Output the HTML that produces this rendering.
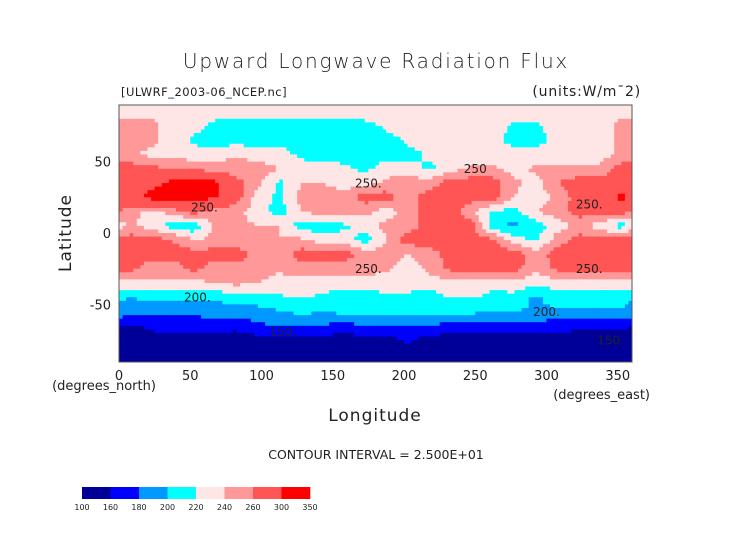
<!DOCTYPE html>
<html><head><meta charset="utf-8"><style>
body{margin:0;background:#fff;width:752px;height:532px;overflow:hidden}
svg text{font-family:"DejaVu Sans","Liberation Sans",sans-serif;fill:#222}
</style></head><body>
<svg id="chart" width="752" height="532" viewBox="0 0 752 532" xmlns="http://www.w3.org/2000/svg">
<text x="376" y="68" text-anchor="middle" font-size="20" font-weight="200" letter-spacing="1.8">Upward Longwave Radiation Flux</text>
<text x="121" y="96" font-size="11.5" letter-spacing="0.5">[ULWRF_2003-06_NCEP.nc]</text>
<text x="641" y="96" text-anchor="end" font-size="14" letter-spacing="0.8">(units:W/m¯2)</text>
<g id="cells"></g>
<g id="labels"></g>
<rect x="119" y="105" width="513" height="257" fill="none" stroke="#555" stroke-width="1"/>
<g id="axes"></g>
<text transform="translate(71,233) rotate(-90)" text-anchor="middle" font-size="17" letter-spacing="1">Latitude</text>
<text x="104" y="390" text-anchor="middle" font-size="13">(degrees_north)</text>
<text x="375" y="421" text-anchor="middle" font-size="17" letter-spacing="1">Longitude</text>
<text x="650" y="399" text-anchor="end" font-size="13">(degrees_east)</text>
<text x="376" y="459" text-anchor="middle" font-size="12.5">CONTOUR INTERVAL = 2.500E+01</text>
<g id="cbar"></g>
</svg>
<script>
const lats=[85,75,65,55,45,35,25,15,5,-5,-15,-25,-35,-45,-55,-65,-75,-85];
const lons=[7.5,22.5,37.5,52.5,67.5,82.5,97.5,112.5,127.5,142.5,157.5,172.5,187.5,202.5,217.5,232.5,247.5,262.5,277.5,292.5,307.5,322.5,337.5,352.5];
const values=[
[235,235,235,235,235,235,235,235,235,235,235,235,235,235,235,235,235,235,235,235,235,235,235,235],
[245,245,230,230,210,210,210,210,210,210,210,210,225,230,230,230,230,230,215,215,230,225,230,245],
[245,245,230,215,210,210,210,210,210,210,210,210,210,225,230,230,230,230,210,210,230,225,230,245],
[245,235,230,230,230,240,230,230,215,210,210,210,210,210,225,230,230,230,230,230,230,230,230,245],
[270,265,260,255,250,245,250,240,230,230,225,215,230,230,215,230,245,245,230,245,245,245,245,270],
[280,290,310,310,310,270,245,215,240,240,230,230,245,250,250,270,270,270,245,230,260,270,270,280],
[280,310,310,310,305,270,230,215,245,250,250,270,270,250,270,270,270,270,240,230,245,270,270,310],
[250,230,250,270,250,245,230,210,240,250,250,245,230,250,270,270,245,215,215,240,250,270,270,270],
[245,230,210,205,245,245,240,240,210,210,215,230,245,250,270,270,270,205,195,210,230,245,230,210],
[270,270,260,240,245,250,240,240,245,230,230,210,240,270,270,270,270,265,230,215,250,270,270,270],
[270,270,270,270,270,270,255,250,270,270,270,250,250,240,250,270,270,270,270,250,270,270,270,270],
[265,250,250,265,250,250,250,245,250,250,250,250,245,230,245,265,270,270,270,245,265,270,270,270],
[235,235,235,235,240,245,240,230,230,225,225,225,230,230,230,230,230,225,235,225,230,230,230,230],
[200,205,205,205,205,210,212,218,222,218,215,215,215,215,210,222,222,215,212,195,212,212,208,205],
[190,188,185,185,188,192,192,198,205,200,205,205,205,205,205,205,205,200,200,198,195,195,198,198],
[155,165,170,170,170,165,178,178,182,178,175,178,178,178,178,175,172,175,175,172,168,165,165,165],
[150,150,150,150,150,150,150,150,150,150,150,150,150,165,150,150,150,150,150,150,150,150,150,150],
[145,145,145,145,145,145,145,145,145,145,145,145,145,145,145,145,145,145,145,145,145,145,145,145]];
const levels=[160,180,200,220,240,260,300];
const colors=["#000099","#0000ff","#0099ff","#00ffff","#ffe6e6","#ff9999","#ff5555","#ff0000"];
const barLabels=["100","160","180","200","220","240","260","300","350"];
const xTicks=[0,50,100,150,200,250,300,350];
const yTicks=[50,0,-50];
const NS="http://www.w3.org/2000/svg";
const X=lon=>119+lon/360*513, Y=lat=>233-lat*257/180;
function colorOf(v){let i=0;while(i<levels.length&&v>=levels[i])i++;return colors[i];}
function sample(lon,lat){
  let fi=(lon-7.5)/15, fj=(85-lat)/10;
  fj=Math.max(0,Math.min(lats.length-1,fj));
  let j0=Math.floor(fj), j1=Math.min(lats.length-1,j0+1), tj=fj-j0;
  let i0=Math.floor(fi), ti=fi-i0;
  let a=((i0%24)+24)%24, b=(a+1)%24;
  let top=values[j0][a]*(1-ti)+values[j0][b]*ti;
  let bot=values[j1][a]*(1-ti)+values[j1][b]*ti;
  return top*(1-tj)+bot*tj;
}
const cells=document.getElementById('cells');
const d=2.5;
for(let lat=90;lat>-90;lat-=d){for(let lon=0;lon<360;lon+=d){
  const r=document.createElementNS(NS,'rect');
  
  
  r.setAttribute('x',X(lon));r.setAttribute('y',Y(lat));
  r.setAttribute('width',X(lon+d)-X(lon)+0.4);r.setAttribute('height',Y(lat-d)-Y(lat)+0.4);
  r.setAttribute('fill',colorOf(sample(lon+d/2,lat-d/2)));
  cells.appendChild(r);
}}
const lab=document.getElementById('labels');
[[60,15,"250."],[175,32,"250."],[250,42,"250"],[330,17,"250."],[175,-28,"250."],[330,-28,"250."],[55,-48,"200."],[300,-58,"200."],[115,-72,"150."],[345,-78,"150."]].forEach(p=>{
  const t=document.createElementNS(NS,'text');
  
  
  t.setAttribute('x',X(p[0]));t.setAttribute('y',Y(p[1]));t.setAttribute('font-size','12');t.setAttribute('text-anchor','middle');
  t.textContent=p[2];lab.appendChild(t);
});
const ax=document.getElementById('axes');
xTicks.forEach(v=>{
  const t=document.createElementNS(NS,'text');
  
  
  t.setAttribute('x',X(v));t.setAttribute('y',380);t.setAttribute('font-size','13');t.setAttribute('text-anchor','middle');
  t.textContent=v;ax.appendChild(t);
});
yTicks.forEach(v=>{
  const t=document.createElementNS(NS,'text');
  
  
  t.setAttribute('x',111);t.setAttribute('y',Y(v)+5);t.setAttribute('font-size','13');t.setAttribute('text-anchor','end');
  t.textContent=v;ax.appendChild(t);
});
const cb=document.getElementById('cbar');
const cw=228/colors.length;
colors.forEach((c,i)=>{
  const r=document.createElementNS(NS,'rect');
  
  
  r.setAttribute('x',82+i*cw);r.setAttribute('y',487);r.setAttribute('width',cw+0.3);r.setAttribute('height',12);r.setAttribute('fill',c);
  cb.appendChild(r);
});
barLabels.forEach((s,i)=>{
  const t=document.createElementNS(NS,'text');
  
  
  t.setAttribute('x',82+i*cw);t.setAttribute('y',510);t.setAttribute('font-size','8');t.setAttribute('text-anchor','middle');
  t.textContent=s;cb.appendChild(t);
});
</script>
</body></html>
